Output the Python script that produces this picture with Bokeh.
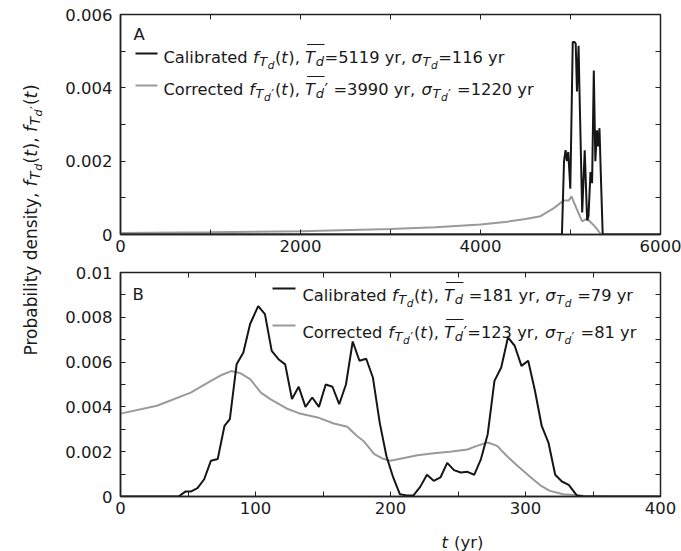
import math
from bokeh.plotting import figure
from bokeh.models import Range1d, FixedTicker, CustomJSTickFormatter, LinearAxis
from bokeh.layouts import row, column
from bokeh.core.properties import value
from bokeh.embed import file_html
from bokeh.resources import INLINE

# ---------------- data (values in units of 1e-3 yr^-1) ----------------
tA_cal = [0, 4880, 4905, 4928, 4945, 4960, 4975, 4998, 5025, 5045, 5058, 5072, 5090, 5100,
          5130, 5158, 5185, 5200, 5222, 5240, 5259, 5276, 5294, 5308, 5322, 5340, 5358, 6000]
fA_cal = [0, 0, 0, 2.0, 2.3, 2.0, 2.25, 1.25, 5.25, 5.25, 5.2, 3.9, 5.15, 3.9,
          0.6, 2.3, 0.38, 0.5, 1.7, 1.4, 4.47, 2.0, 2.84, 2.4, 2.9, 1.4, 0, 0]
tA_cor = [0, 1000, 2000, 3000, 3500, 4000, 4300, 4500, 4667, 4815, 4926, 4981, 5011, 5037,
          5093, 5130, 5185, 5222, 5278, 5333, 5360, 6000]
fA_cor = [0.04, 0.06, 0.09, 0.15, 0.2, 0.27, 0.35, 0.42, 0.5, 0.72, 0.93, 0.93, 1.04, 0.88,
          0.56, 0.36, 0.43, 0.34, 0.2, 0.02, 0, 0]

tB_cal = [0, 43, 48, 52, 57, 62, 67, 72, 77, 81, 86, 91, 96, 102, 107, 112, 117, 122, 127, 132,
          137, 142, 147, 152, 157, 162, 167, 172, 177, 182, 187, 192, 197, 202, 207, 212, 217,
          222, 227, 232, 237, 242, 247, 252, 257, 262, 267, 272, 277, 282, 287, 292, 297, 302,
          307, 312, 317, 322, 327, 332, 338, 343, 400]
fB_cal = [0, 0, 0.22, 0.22, 0.37, 0.77, 1.6, 1.67, 3.15, 3.45, 5.9, 6.43, 7.7, 8.5, 8.14, 6.5,
          6.13, 5.9, 4.35, 4.9, 4.0, 4.42, 4.0, 5.0, 4.9, 4.12, 5.0, 6.92, 6.06, 6.15, 5.3, 3.3,
          1.8, 0.85, 0.1, 0.05, 0.05, 0.43, 0.97, 0.7, 0.85, 1.5, 1.18, 1.07, 1.1, 0.97, 1.67,
          2.78, 5.16, 5.76, 7.1, 6.73, 5.83, 6.06, 4.72, 3.15, 2.41, 0.97, 0.67, 0.52, 0.05, 0, 0]
tB_cor = [0, 27, 52, 67, 74, 82, 89, 96, 104, 111, 123, 132, 146, 158, 168, 175, 180, 188, 195,
          200, 210, 220, 232, 244, 257, 264, 272, 279, 286, 294, 304, 311, 318, 328, 343, 360, 400]
fB_cor = [3.7, 4.05, 4.64, 5.16, 5.4, 5.6, 5.5, 5.24, 4.64, 4.35, 3.93, 3.72, 3.53, 3.26, 3.11,
          2.71, 2.48, 1.89, 1.67, 1.6, 1.72, 1.84, 1.93, 2.0, 2.1, 2.26, 2.41, 2.26, 1.82, 1.37,
          0.85, 0.5, 0.25, 0.1, 0.03, 0.01, 0]

xticksA = [0, 2000, 4000, 6000]
xminorA = [1000, 3000, 5000]
yticksA = [0, 0.002, 0.004, 0.006]
yminorA = [0.001, 0.003, 0.005]
xticksB = [0, 100, 200, 300, 400]
xminorB = [50, 150, 250, 350]
yticksB = [0, 0.002, 0.004, 0.006, 0.008, 0.01]
yminorB = [0.001, 0.003, 0.005, 0.007, 0.009]

FONT = "DejaVu Sans"
BLACK = "#161616"
GRAY = "#9a9a9a"
TXT = "#1a1a1a"

# ---------------- helpers ----------------
W = {' ': 318, ',': 318, '.': 318, '(': 390, ')': 390, '=': 838, "'": 275, '\u2032': 290,
     'A': 684, 'B': 686, 'C': 698, 'P': 603, 'T': 611, 'a': 613, 'b': 635, 'c': 550, 'd': 635,
     'e': 615, 'f': 352, 'i': 278, 'l': 278, 'n': 634, 'o': 612, 'p': 635, 'r': 411, 's': 521,
     't': 392, 'y': 592, '\u03c3': 634}
for ch in "0123456789":
    W[ch] = 636


def twidth(s, size):
    return sum(W.get(c, 600) for c in s) * size / 1000.0


LEVEL_SIZE = [1.0, 0.8, 0.65]
LEVEL_SHIFT = [0.0, 0.27, 0.47]


def rich(p, X, Y, x0, y0, pieces, S, angle=0.0, color=TXT):
    if angle == 0.0:
        ux, uy, dx, dy = 1, 0, 0, 1
    else:
        ux, uy, dx, dy = 0, -1, 1, 0
    pos = 0.0
    ol_start = None
    for pc in pieces:
        text, ital, level = pc[0], pc[1], pc[2]
        flag = pc[3] if len(pc) > 3 else ""
        size = S * LEVEL_SIZE[level]
        shift = S * LEVEL_SHIFT[level]
        # leading spaces are collapsed by SVG: advance over them instead
        lead = len(text) - len(text.lstrip(' '))
        pos += twidth(' ' * lead, size)
        text = text.lstrip(' ')
        if "o" in flag:
            ol_start = pos
        px = x0 + ux * pos + dx * shift
        py = y0 + uy * pos + dy * shift
        p.text(x=[X(px)], y=[Y(py)], text=[text], text_font=value(FONT),
               text_font_size=value("%.1fpx" % size),
               text_font_style="italic" if ital else "normal",
               text_baseline="alphabetic", text_align="left", angle=angle,
               text_color=color)
        pos += twidth(text, size)
        if ital:
            pos += 0.04 * size
        if "e" in flag and ol_start is not None:
            oy = y0 - 0.8 * S
            p.line(x=[X(x0 + ol_start + 2.0), X(x0 + pos)], y=[Y(oy), Y(oy)],
                   line_color=color, line_width=1.1)
            ol_start = None
    return pos


def style_axes(p, xt, xm, yt, ym):
    p.xgrid.visible = False
    p.ygrid.visible = False
    p.outline_line_color = "#222222"
    p.outline_line_width = 1.5
    fmt_y = CustomJSTickFormatter(code="""
        if (Math.abs(tick) < 1e-9) { return '0'; }
        return tick.toFixed(3).replace(/0+$/, '');
    """)
    p.xaxis.ticker = FixedTicker(ticks=xt, minor_ticks=xm)
    p.yaxis.ticker = FixedTicker(ticks=yt, minor_ticks=ym)
    p.yaxis.formatter = fmt_y
    for ax in (p.xaxis[0], p.yaxis[0]):
        ax.axis_line_color = "#222222"
        ax.axis_line_width = 1.5
        ax.major_tick_in = 5
        ax.major_tick_out = 0
        ax.minor_tick_in = 5
        ax.minor_tick_out = 0
        ax.major_tick_line_color = "#222222"
        ax.minor_tick_line_color = "#222222"
        ax.major_label_text_font = FONT
        ax.major_label_text_font_size = "16.5px"
        ax.major_label_text_color = TXT
    p.yaxis.major_label_standoff = 8
    p.xaxis.major_label_standoff = 5
    blank = CustomJSTickFormatter(code="return '';")
    for loc, t, m in (("above", xt, xm), ("right", yt, ym)):
        ax = LinearAxis(ticker=FixedTicker(ticks=t, minor_ticks=m), formatter=blank,
                        axis_line_color=None, major_tick_in=5, major_tick_out=0,
                        minor_tick_in=5, minor_tick_out=0,
                        major_tick_line_color="#222222", minor_tick_line_color="#222222",
                        major_label_text_font_size="1px", major_label_standoff=0)
        p.add_layout(ax, loc)


# ---------------- layout geometry (page pixels; page starts at 0,0) ----------------
PAGE_H = 551
LEFT_STRIP = 48
FL, FR = 120, 660          # frame left / right
A_TOP, A_BOT = 14, 234
B_TOP, B_BOT = 272, 496
A_FIG_BOT = 264
B_FIG_BOT = 526

# ---------------- panel A ----------------
pA = figure(frame_width=FR - FL, frame_height=A_BOT - A_TOP,
            x_range=Range1d(0, 6000), y_range=Range1d(0, 0.006),
            min_border_left=FL - LEFT_STRIP, min_border_right=681 - FR,
            min_border_top=A_TOP, min_border_bottom=A_FIG_BOT - A_BOT,
            output_backend="svg", toolbar_location=None)
style_axes(pA, xticksA, xminorA, yticksA, yminorA)
pA.line(tA_cor, [v * 1e-3 for v in fA_cor], line_color=GRAY, line_width=2)
pA.line(tA_cal, [v * 1e-3 for v in fA_cal], line_color=BLACK, line_width=2)


def XA(px):
    return (px - FL) / (FR - FL) * 6000


def YA(py):
    return (A_BOT - py) / (A_BOT - A_TOP) * 0.006


def XB(px):
    return (px - FL) / (FR - FL) * 400


def YB(py):
    return (B_BOT - py) / (B_BOT - B_TOP) * 0.01


S = 16.3
rich(pA, XA, YA, 133, 34, [("A", False, 0)], 16.5)
pA.line([XA(135), XA(157)], [YA(53), YA(53)], line_color=BLACK, line_width=2)
pA.line([XA(135), XA(157)], [YA(85), YA(85)], line_color=GRAY, line_width=2)

leg_cal_A = [("Calibrated ", False, 0), ("f", True, 0), ("T", True, 1), ("d", True, 2),
             ("(", False, 0), ("t", True, 0), ("), ", False, 0),
             ("T", True, 0, "o"), ("d", True, 1, "e"), ("=5119 yr, ", False, 0),
             ("\u03c3", True, 0), ("T", True, 1), ("d", True, 2), ("=116 yr", False, 0)]
leg_cor_A = [("Corrected ", False, 0), ("f", True, 0), ("T", True, 1), ("d", True, 2),
             ("\u2032", False, 1), ("(", False, 0), ("t", True, 0), ("), ", False, 0),
             ("T", True, 0, "o"), ("d", True, 1, "e"), ("\u2032 =3990 yr, ", False, 0),
             ("\u03c3", True, 0), ("T", True, 1), ("d", True, 2), ("\u2032", False, 1),
             (" =1220 yr", False, 0)]
rich(pA, XA, YA, 163, 57, leg_cal_A, S)
rich(pA, XA, YA, 163, 89, leg_cor_A, S)

# ---------------- panel B ----------------
pB = figure(frame_width=FR - FL, frame_height=B_BOT - B_TOP,
            x_range=Range1d(0, 400), y_range=Range1d(0, 0.01),
            min_border_left=FL - LEFT_STRIP, min_border_right=681 - FR,
            min_border_top=B_TOP - A_FIG_BOT, min_border_bottom=B_FIG_BOT - B_BOT,
            output_backend="svg", toolbar_location=None)
style_axes(pB, xticksB, xminorB, yticksB, yminorB)
pB.line(tB_cor, [v * 1e-3 for v in fB_cor], line_color=GRAY, line_width=2)
pB.line(tB_cal, [v * 1e-3 for v in fB_cal], line_color=BLACK, line_width=2)

rich(pB, XB, YB, 132, 294, [("B", False, 0)], 16.5)
pB.line([XB(272), XB(295)], [YB(288), YB(288)], line_color=BLACK, line_width=2)
pB.line([XB(272), XB(295)], [YB(325), YB(325)], line_color=GRAY, line_width=2)
leg_cal_B = [("Calibrated ", False, 0), ("f", True, 0), ("T", True, 1), ("d", True, 2),
             ("(", False, 0), ("t", True, 0), ("), ", False, 0),
             ("T", True, 0, "o"), ("d", True, 1, "e"), (" =181 yr, ", False, 0),
             ("\u03c3", True, 0), ("T", True, 1), ("d", True, 2), (" =79 yr", False, 0)]
leg_cor_B = [("Corrected ", False, 0), ("f", True, 0), ("T", True, 1), ("d", True, 2),
             ("\u2032", False, 1), ("(", False, 0), ("t", True, 0), ("), ", False, 0),
             ("T", True, 0, "o"), ("d", True, 1, "e"), ("\u2032=123 yr, ", False, 0),
             ("\u03c3", True, 0), ("T", True, 1), ("d", True, 2), ("\u2032", False, 1),
             (" =81 yr", False, 0)]
rich(pB, XB, YB, 302, 295, leg_cal_B, S)
rich(pB, XB, YB, 302, 332, leg_cor_B, S)

# ---------------- x-axis label strip ----------------
pX = figure(frame_width=681 - LEFT_STRIP, frame_height=PAGE_H - B_FIG_BOT,
            x_range=Range1d(0, 681 - LEFT_STRIP), y_range=Range1d(0, PAGE_H - B_FIG_BOT),
            min_border=0, x_axis_location=None, y_axis_location=None,
            output_backend="svg", toolbar_location=None)
pX.outline_line_color = None
pX.xgrid.visible = False
pX.ygrid.visible = False


def XX(px):
    return px - LEFT_STRIP


def YX(py):
    return PAGE_H - py


XS = 16.5
wxl = twidth("t", XS) + 0.04 * XS + twidth(" (yr)", XS)
rich(pX, XX, YX, (FL + FR) / 2 - wxl / 2, 542, [("t", True, 0), (" (yr)", False, 0)], XS)

# ---------------- y-axis label strip ----------------
pY = figure(frame_width=LEFT_STRIP, frame_height=PAGE_H, x_range=Range1d(0, LEFT_STRIP),
            y_range=Range1d(0, PAGE_H), min_border=0,
            x_axis_location=None, y_axis_location=None,
            output_backend="svg", toolbar_location=None)
pY.outline_line_color = None
pY.xgrid.visible = False
pY.ygrid.visible = False


def XY(px):
    return px


def YY(py):
    return PAGE_H - py


yl = [("Probability density, ", False, 0), ("f", True, 0), ("T", True, 1), ("d", True, 2),
      ("(", False, 0), ("t", True, 0), ("), ", False, 0), ("f", True, 0), ("T", True, 1),
      ("d", True, 2), ("\u2032", False, 1), ("(", False, 0), ("t", True, 0), (")", False, 0)]
rich(pY, XY, YY, 30, 355, yl, 17, angle=math.pi / 2)

layout = row(pY, column(pA, pB, pX))
open("out.html", "w").write(file_html(layout, INLINE))
